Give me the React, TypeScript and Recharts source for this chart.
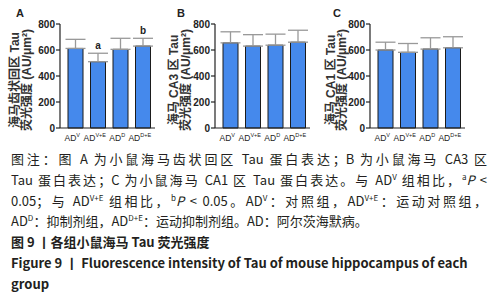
import React from "react";
import { BarChart, Bar, XAxis, YAxis, ErrorBar, LabelList, Label } from "recharts";

const categories = ["ADV", "ADV+E", "ADD", "ADD+E"];
const tickSups = ["V", "V+E", "D", "D+E"];
const yTicks = [0, 200, 400, 600, 800];

const dentateMean = [612, 510, 605, 630];
const dentateSd = [70, 65, 85, 60];
const dentateSig = ["", "a", "", "b"];

const ca3Mean = [655, 630, 637, 660];
const ca3Sd = [85, 88, 85, 92];
const ca3Sig = ["", "", "", ""];

const ca1Mean = [600, 582, 607, 617];
const ca1Sd = [60, 68, 87, 85];
const ca1Sig = ["", "", "", ""];

const panelLetters = ["A", "B", "C"];
const yLabelLine1 = ["海马齿状回区 Tau", "海马 CA3 区 Tau", "海马 CA1 区 Tau"];
const yLabelLine2 = "荧光强度 (AU/μm²)";

const panels = [
  { mean: dentateMean, sd: dentateSd, sig: dentateSig, left: 0, letterX: 16, l1: 15, l2: 27 },
  { mean: ca3Mean, sd: ca3Sd, sig: ca3Sig, left: 155, letterX: 22, l1: 19, l2: 31 },
  { mean: ca1Mean, sd: ca1Sd, sig: ca1Sig, left: 310, letterX: 23, l1: 21, l2: 32 },
];

const AX = "Liberation Sans, Arial, sans-serif";
const CJK = "'Liberation Sans', 'Noto Sans CJK SC', sans-serif";
const BAR_FILL = "#4589ec";
const INK = "#222";

const XTick = (props: any) => {
  const { x, y, index } = props;
  return (
    <text x={x - 3} y={y + 13} textAnchor="middle" fontSize={8.5} fill={INK} fontFamily={AX}>
      AD
      <tspan fontSize={5.5} dy={-4}>
        {tickSups[index]}
      </tspan>
    </text>
  );
};

function Panel({ p }: { p: number }) {
  const cfg = panels[p];
  const data = categories.map((c, i) => ({
    name: c,
    mean: cfg.mean[i],
    err: [0, cfg.sd[i]],
    sig: cfg.sig[i],
  }));

  const sigContent = (props: any) => {
    const { x, y, width, height, value, index } = props;
    if (!value) return null;
    const errTop = y - (cfg.sd[index] * height) / cfg.mean[index];
    return (
      <text
        x={x + width / 2}
        y={errTop - 4}
        textAnchor="middle"
        fontSize={10}
        fontWeight="bold"
        fill={INK}
        fontFamily={AX}
      >
        {value}
      </text>
    );
  };

  const yLabel = () => (
    <g>
      <text x={cfg.letterX} y={17} fontSize={11} fontWeight="bold" fill={INK} fontFamily={AX}>
        {panelLetters[p]}
      </text>
      <text
        transform={`translate(${cfg.l1},80) rotate(-90)`}
        textAnchor="middle"
        dominantBaseline="central"
        fontSize={12}
        fontWeight="bold"
        fill="#333"
        fontFamily={CJK}
      >
        {yLabelLine1[p]}
      </text>
      <text
        transform={`translate(${cfg.l2},80) rotate(-90)`}
        textAnchor="middle"
        dominantBaseline="central"
        fontSize={12}
        fontWeight="bold"
        fill="#333"
        fontFamily={CJK}
      >
        {yLabelLine2}
      </text>
    </g>
  );

  return (
    <div style={{ position: "absolute", left: cfg.left, top: 0 }}>
      <BarChart
        width={160}
        height={145}
        data={data}
        margin={{ top: 24, right: 5, bottom: 0, left: 0 }}
        barSize={15}
      >
        <XAxis
          dataKey="name"
          height={17}
          padding={{ left: 4, right: 1 }}
          tickLine={false}
          tickSize={0}
          tickMargin={0}
          interval={0}
          axisLine={{ stroke: INK, strokeWidth: 1.2 }}
          tick={<XTick />}
        />
        <YAxis
          width={60}
          domain={[0, 800]}
          ticks={yTicks}
          tickSize={4}
          tickMargin={1}
          interval={0}
          axisLine={{ stroke: INK, strokeWidth: 1.2 }}
          tickLine={{ stroke: INK, strokeWidth: 1.2 }}
          tick={{ fontSize: 10, fontWeight: "bold", fill: INK, fontFamily: AX }}
        >
          <Label content={yLabel} />
        </YAxis>
        <Bar dataKey="mean" fill={BAR_FILL} stroke="#1b1b1b" strokeWidth={1} isAnimationActive={false}>
          <ErrorBar dataKey="err" direction="y" width={10} stroke="#999" strokeWidth={1.3} />
          <LabelList dataKey="sig" content={sigContent} />
        </Bar>
      </BarChart>
    </div>
  );
}

const sup = (t: string) => (
  <sup style={{ fontSize: 8, lineHeight: 0, verticalAlign: "super" }}>{t}</sup>
);

const lineBase: React.CSSProperties = {
  height: 20.8,
  lineHeight: "20.8px",
  whiteSpace: "nowrap",
};
const justified: React.CSSProperties = {
  ...lineBase,
  whiteSpace: "normal",
  textAlign: "justify",
  textAlignLast: "justify" as any,
};

export default function App() {
  return (
    <div
      style={{
        position: "absolute",
        left: 0,
        top: 0,
        width: 498,
        height: 300,
        background: "#fff",
        overflow: "hidden",
      }}
    >
      <Panel p={0} />
      <Panel p={1} />
      <Panel p={2} />
      <div
        style={{
          position: "absolute",
          left: 11,
          top: 149,
          width: 476,
          fontSize: 13,
          color: "#231f20",
          fontFamily: "'Noto Sans CJK SC', sans-serif",
        }}
      >
        <div style={justified}>图注：图 A 为小鼠海马齿状回区 Tau 蛋白表达；B 为小鼠海马 CA3 区</div>
        <div style={justified}>
          Tau 蛋白表达；C 为小鼠海马 CA1 区 Tau 蛋白表达。与 AD{sup("V")} 组相比，{sup("a")}
          <i>P</i> &lt;
        </div>
        <div style={justified}>
          0.05；与 AD{sup("V+E")} 组相比，{sup("b")}
          <i>P</i> &lt; 0.05。AD{sup("V")}：对照组，AD{sup("V+E")}：运动对照组，
        </div>
        <div style={lineBase}>
          AD{sup("D")}：抑制剂组，AD{sup("D+E")}：运动抑制剂组。AD：阿尔茨海默病。
        </div>
        <div style={{ ...lineBase, fontWeight: "bold" }}>图 9 丨各组小鼠海马 Tau 荧光强度</div>
        <div style={{ ...lineBase, fontWeight: "bold" }}>
          Figure 9 丨 Fluorescence intensity of Tau of mouse hippocampus of each
        </div>
        <div style={{ ...lineBase, fontWeight: "bold" }}>group</div>
      </div>
    </div>
  );
}
